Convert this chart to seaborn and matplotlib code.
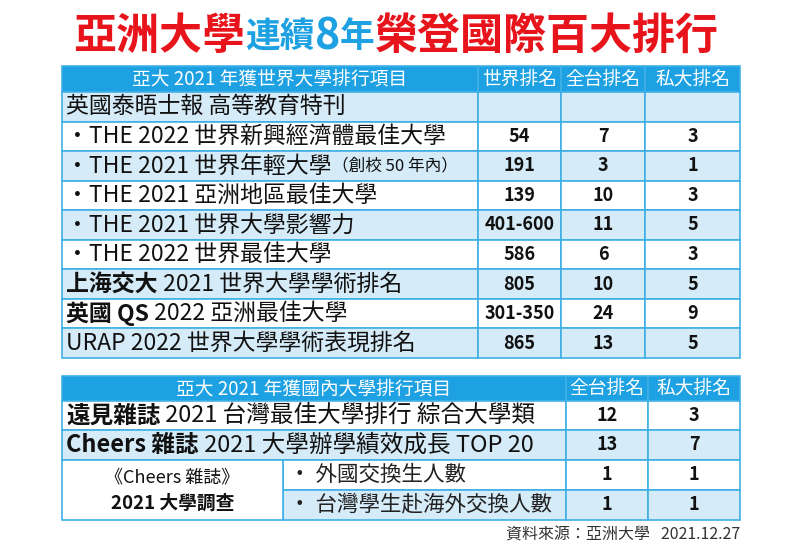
import matplotlib
matplotlib.use("Agg")
import matplotlib.pyplot as plt
import seaborn as sns
from matplotlib.patches import Rectangle

sns.set_theme(style="white")
FONT = ["Noto Sans CJK TC", "Noto Sans CJK JP", "Noto Sans CJK SC", "DejaVu Sans"]
plt.rcParams["font.family"] = "sans-serif"
plt.rcParams["font.sans-serif"] = FONT

BLUE = "#1da1e2"
LIGHT = "#d5ebf8"
LINE = "#3fb0e6"

# Table 1 data
t1_header = ["亞大 2021 年獲世界大學排行項目", "世界排名", "全台排名", "私大排名"]
t1_items = [
    [("英國泰晤士報 高等教育特刊", False)],
    [("・THE 2022 世界新興經濟體最佳大學", False)],
    [("・THE 2021 世界年輕大學", False), ("（創校 50 年內）", False)],
    [("・THE 2021 亞洲地區最佳大學", False)],
    [("・THE 2021 世界大學影響力", False)],
    [("・THE 2022 世界最佳大學", False)],
    [("上海交大", True), (" 2021 世界大學學術排名", False)],
    [("英國 QS", True), (" 2022 亞洲最佳大學", False)],
    [("URAP 2022 世界大學學術表現排名", False)],
]
t1_world = ["", "54", "191", "139", "401-600", "586", "805", "301-350", "865"]
t1_tw = ["", "7", "3", "10", "11", "6", "10", "24", "13"]
t1_priv = ["", "3", "1", "3", "5", "3", "5", "9", "5"]

# Table 2 data
t2_header = ["亞大 2021 年獲國內大學排行項目", "全台排名", "私大排名"]
t2_items = [
    [("遠見雜誌", True), (" 2021 台灣最佳大學排行 綜合大學類", False)],
    [("Cheers 雜誌", True), (" 2021 大學辦學績效成長 TOP 20", False)],
]
t2_sub_group = ["《Cheers 雜誌》", "2021 大學調查"]
t2_sub_items = ["・ 外國交換生人數", "・ 台灣學生赴海外交換人數"]
t2_tw = ["12", "13", "1", "1"]
t2_priv = ["3", "7", "1", "1"]

fig = plt.figure(figsize=(7.92, 5.55), dpi=100)
ax = fig.add_axes([0, 0, 1, 1])
ax.set_xlim(0, 792)
ax.set_ylim(555, 0)
ax.axis("off")
fig.canvas.draw()
renderer = fig.canvas.get_renderer()


def rich(x, y, parts, size, ha="left", colors=None, styles=None, sizes=None):
    texts = []
    cx = x
    for i, (s, bold) in enumerate(parts):
        col = colors[i] if colors else "#111111"
        st = styles[i] if styles else "normal"
        sz = sizes[i] if sizes else size
        t = ax.text(cx, y, s, fontsize=sz, fontweight="bold" if bold else "normal",
                    color=col, va="center", ha="left", fontstyle=st)
        bb = t.get_window_extent(renderer)
        cx += bb.width
        texts.append(t)
    if ha == "center":
        total = cx - x
        for t in texts:
            t.set_x(t.get_position()[0] - total / 2)
    return texts


# Title
rich(396, 36, [("亞洲大學", True), ("連續", True), ("8", True), ("年", True), ("榮登國際百大排行", True)],
     size=30, ha="center",
     colors=["#e8141c", BLUE, BLUE, BLUE, "#e8141c"],
     styles=["normal", "normal", "italic", "normal", "normal"],
     sizes=[31, 25, 31, 25, 31])

def rect(x0, y0, x1, y1, fc):
    ax.add_patch(Rectangle((x0, y0), x1 - x0, y1 - y0, facecolor=fc, edgecolor=LINE, lw=1.2))

# Table 1
X0, C1, C2, C3, X1 = 62, 478, 561, 645, 740
hy0, hy1 = 66, 92
rh = (358 - 92) / 9
for xa, xb, txt in zip([X0, C1, C2, C3], [C1, C2, C3, X1], t1_header):
    rect(xa, hy0, xb, hy1, BLUE)
    ax.text((xa + xb) / 2, (hy0 + hy1) / 2, txt, color="white", fontsize=13.5,
            ha="center", va="center")
for i in range(9):
    y0 = hy1 + i * rh
    y1 = y0 + rh
    fc = LIGHT if i % 2 == 0 else "white"
    for xa, xb in zip([X0, C1, C2, C3], [C1, C2, C3, X1]):
        rect(xa, y0, xb, y1, fc)
    yc = (y0 + y1) / 2
    parts = t1_items[i]
    if i == 2:
        t = rich(66, yc, parts[:1], 16.5)
        bb = t[0].get_window_extent(renderer)
        ax.text(66 + bb.width, yc, parts[1][0], fontsize=12, va="center", color="#111111")
    else:
        rich(66, yc, parts, 16.5)
    for xa, xb, v in zip([C1, C2, C3], [C2, C3, X1], [t1_world[i], t1_tw[i], t1_priv[i]]):
        ax.text((xa + xb) / 2, yc, v, fontsize=13, fontweight="bold", ha="center", va="center",
                color="#111111")

# Table 2
Y = [376, 401, 430, 460, 490, 520]
D1, D2, SUB = 566, 648, 283
for xa, xb, txt in zip([X0, D1, D2], [D1, D2, X1], t2_header):
    rect(xa, Y[0], xb, Y[1], BLUE)
    ax.text((xa + xb) / 2, (Y[0] + Y[1]) / 2, txt, color="white", fontsize=13.5,
            ha="center", va="center")
for i in range(4):
    y0, y1 = Y[i + 1], Y[i + 2]
    fc = LIGHT if i % 2 == 1 else "white"
    yc = (y0 + y1) / 2
    if i < 2:
        rect(X0, y0, D1, y1, fc)
        rich(66, yc, t2_items[i], 17)
    else:
        rect(SUB, y0, D1, y1, fc)
        ax.text(SUB + 6, yc, t2_sub_items[i - 2], fontsize=15.5, va="center", color="#222222")
    for xa, xb, v in zip([D1, D2], [D2, X1], [t2_tw[i], t2_priv[i]]):
        rect(xa, y0, xb, y1, fc)
        ax.text((xa + xb) / 2, yc, v, fontsize=13, fontweight="bold", ha="center", va="center",
                color="#111111")
rect(X0, Y[3], SUB, Y[5], "white")
ax.text((X0 + SUB) / 2, Y[4] - 13, t2_sub_group[0], fontsize=13, ha="center", va="center", color="#111111")
ax.text((X0 + SUB) / 2, Y[4] + 13, t2_sub_group[1], fontsize=13.5, fontweight="bold",
        ha="center", va="center", color="#111111")

ax.text(740, 535, "資料來源：亞洲大學   2021.12.27", fontsize=11.5, ha="right", va="center",
        color="#333333")

fig.savefig("out.png", dpi=100)
